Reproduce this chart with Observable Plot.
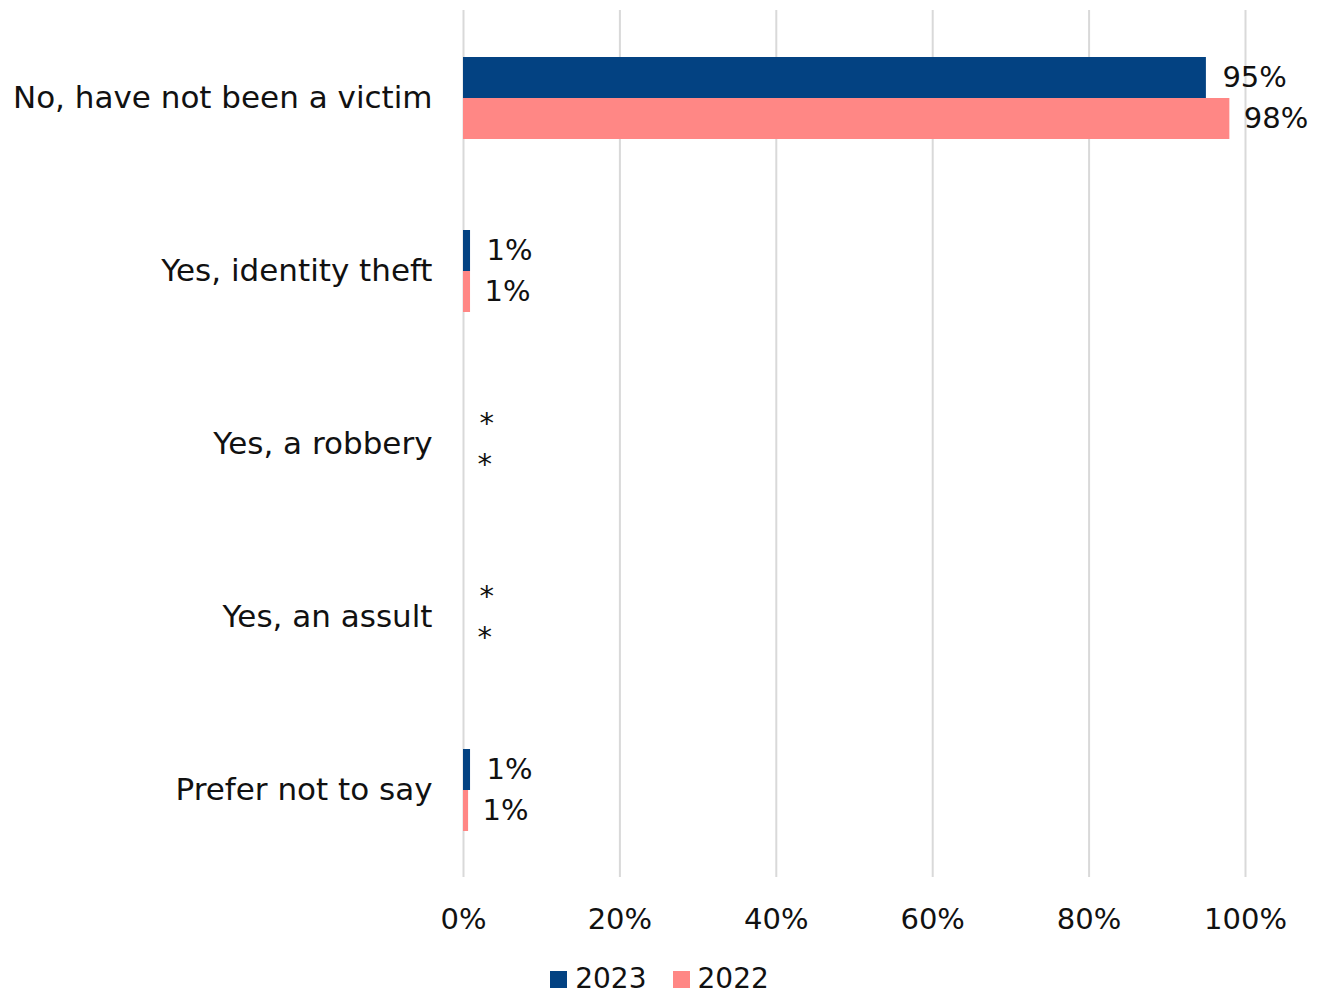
<!DOCTYPE html>
<html>
<head>
<meta charset="utf-8">
<script src="https://cdn.jsdelivr.net/npm/d3@7"></script>
<script src="https://cdn.jsdelivr.net/npm/@observablehq/plot@0.6"></script>
<style>
  html, body { margin: 0; background: #fff; font-family: "DejaVu Sans", sans-serif; overflow: hidden; }
  #chart svg { display: block; }
  #legend { display: flex; justify-content: center; align-items: center; height: 28px; line-height: 28px; margin-top: 20px; font-size: 28px; color: #111; }
  .item { display: flex; align-items: center; }
  .sw { width: 17px; height: 17px; margin-right: 8px; }
</style>
</head>
<body>
<div id="chart"></div>
<div id="legend"></div>
<script>
const categories = ["No, have not been a victim", "Yes, identity theft", "Yes, a robbery", "Yes, an assult", "Prefer not to say"];
const series = ["2023", "2022"];
const values2023 = [95, 0.9, 0, 0, 0.9];
const values2022 = [98, 0.9, 0, 0, 0.65];
const labels2023 = ["95%", "1%", "*", "*", "1%"];
const labels2022 = ["98%", "1%", "*", "*", "1%"];
const xTicks = [0, 20, 40, 60, 80, 100];
const colors = ["#034282", "#ff8785"];

const d23 = categories.map((c, i) => ({category: c, value: values2023[i], label: labels2023[i]}));
const d22 = categories.map((c, i) => ({category: c, value: values2022[i], label: labels2022[i]}));

const fs = 29;
const chart = Plot.plot({
  width: 1319,
  height: 945,
  marginLeft: 463,
  marginRight: 74,
  marginTop: 10,
  marginBottom: 68,
  style: {fontFamily: '"DejaVu Sans", sans-serif', fontSize: fs + "px", color: "#111", background: "#fff"},
  x: {domain: [0, 100], ticks: xTicks, tickFormat: d => d + "%", grid: false, label: null},
  y: {domain: categories, paddingInner: 0.527, paddingOuter: 0.2635, label: null},
  marks: [
    Plot.ruleX(xTicks, {stroke: "#d9d9d9", strokeWidth: 2}),
    Plot.barX(d23, {x: "value", y: "category", fill: colors[0], insetBottom: 41}),
    Plot.barX(d22, {x: "value", y: "category", fill: colors[1], insetTop: 41}),
    Plot.text(d23, {x: "value", y: "category", text: "label", dy: -20.5, dx: 16, textAnchor: "start", fontSize: fs, fill: "#111"}),
    Plot.text(d22, {x: "value", y: "category", text: "label", dy: 20.5, dx: 14, textAnchor: "start", fontSize: fs, fill: "#111"}),
    Plot.axisX({ticks: xTicks, tickFormat: d => d + "%", tickSize: 0, tickPadding: 31, fontSize: fs, label: null}),
    Plot.axisY({tickSize: 0, tickPadding: 31, fontSize: 31, label: null})
  ]
});
document.getElementById("chart").appendChild(chart);

const legend = document.getElementById("legend");
series.forEach((s, i) => {
  const item = document.createElement("div");
  item.className = "item";
  if (i > 0) item.style.marginLeft = "26px";
  const sw = document.createElement("div");
  sw.className = "sw";
  sw.style.background = colors[i];
  const t = document.createElement("span");
  t.textContent = s;
  item.appendChild(sw);
  item.appendChild(t);
  legend.appendChild(item);
});
</script>
</body>
</html>
